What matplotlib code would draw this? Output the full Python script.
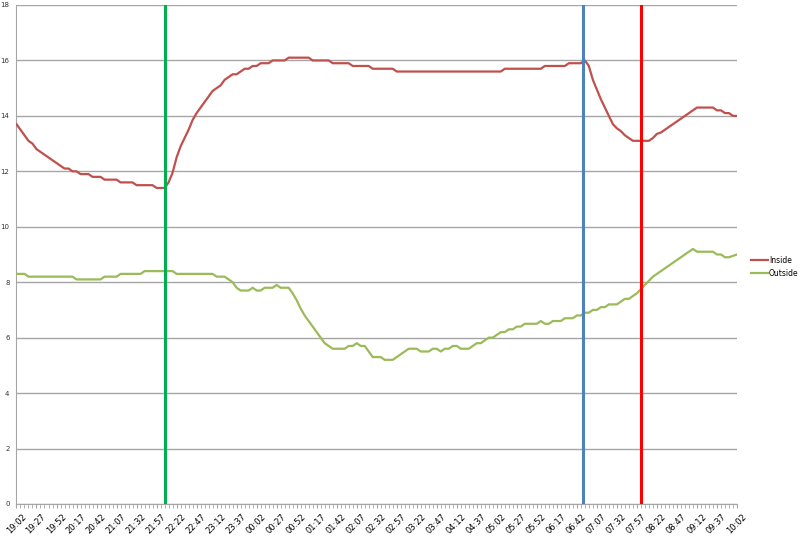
import matplotlib
matplotlib.use("Agg")
import matplotlib.pyplot as plt
from matplotlib.transforms import ScaledTranslation

# 5-minute samples from 19:02 to 10:02 (181 points)
start_minutes = 19 * 60 + 2
step = 5

inside = [
    13.7, 13.5, 13.3, 13.1, 13.0, 12.8, 12.7, 12.6, 12.5, 12.4,
    12.3, 12.2, 12.1, 12.1, 12.0, 12.0, 11.9, 11.9, 11.9, 11.8,
    11.8, 11.8, 11.7, 11.7, 11.7, 11.7, 11.6, 11.6, 11.6, 11.6,
    11.5, 11.5, 11.5, 11.5, 11.5, 11.4, 11.4, 11.4, 11.6, 11.95,
    12.5, 12.9, 13.2, 13.5, 13.85, 14.1, 14.3, 14.5, 14.7, 14.9,
    15.0, 15.1, 15.3, 15.4, 15.5, 15.5, 15.6, 15.7, 15.7, 15.8,
    15.8, 15.9, 15.9, 15.9, 16.0, 16.0, 16.0, 16.0, 16.1, 16.1,
    16.1, 16.1, 16.1, 16.1, 16.0, 16.0, 16.0, 16.0, 16.0, 15.9,
    15.9, 15.9, 15.9, 15.9, 15.8, 15.8, 15.8, 15.8, 15.8, 15.7,
    15.7, 15.7, 15.7, 15.7, 15.7, 15.6, 15.6, 15.6, 15.6, 15.6,
    15.6, 15.6, 15.6, 15.6, 15.6, 15.6, 15.6, 15.6, 15.6, 15.6,
    15.6, 15.6, 15.6, 15.6, 15.6, 15.6, 15.6, 15.6, 15.6, 15.6,
    15.6, 15.6, 15.7, 15.7, 15.7, 15.7, 15.7, 15.7, 15.7, 15.7,
    15.7, 15.7, 15.8, 15.8, 15.8, 15.8, 15.8, 15.8, 15.9, 15.9,
    15.9, 15.9, 16.0, 15.8, 15.3, 14.95, 14.6, 14.3, 14.0, 13.7,
    13.55, 13.45, 13.3, 13.2, 13.1, 13.1, 13.1, 13.1, 13.1, 13.2,
    13.35, 13.4, 13.5, 13.6, 13.7, 13.8, 13.9, 14.0, 14.1, 14.2,
    14.3, 14.3, 14.3, 14.3, 14.3, 14.2, 14.2, 14.1, 14.1, 14.0,
    14.0,
]

outside = [
    8.3, 8.3, 8.3, 8.2, 8.2, 8.2, 8.2, 8.2, 8.2, 8.2,
    8.2, 8.2, 8.2, 8.2, 8.2, 8.1, 8.1, 8.1, 8.1, 8.1,
    8.1, 8.1, 8.2, 8.2, 8.2, 8.2, 8.3, 8.3, 8.3, 8.3,
    8.3, 8.3, 8.4, 8.4, 8.4, 8.4, 8.4, 8.4, 8.4, 8.4,
    8.3, 8.3, 8.3, 8.3, 8.3, 8.3, 8.3, 8.3, 8.3, 8.3,
    8.2, 8.2, 8.2, 8.1, 8.0, 7.8, 7.7, 7.7, 7.7, 7.8,
    7.7, 7.7, 7.8, 7.8, 7.8, 7.9, 7.8, 7.8, 7.8, 7.6,
    7.35, 7.05, 6.8, 6.6, 6.4, 6.2, 6.0, 5.8, 5.7, 5.6,
    5.6, 5.6, 5.6, 5.7, 5.7, 5.8, 5.7, 5.7, 5.5, 5.3,
    5.3, 5.3, 5.2, 5.2, 5.2, 5.3, 5.4, 5.5, 5.6, 5.6,
    5.6, 5.5, 5.5, 5.5, 5.6, 5.6, 5.5, 5.6, 5.6, 5.7,
    5.7, 5.6, 5.6, 5.6, 5.7, 5.8, 5.8, 5.9, 6.0, 6.0,
    6.1, 6.2, 6.2, 6.3, 6.3, 6.4, 6.4, 6.5, 6.5, 6.5,
    6.5, 6.6, 6.5, 6.5, 6.6, 6.6, 6.6, 6.7, 6.7, 6.7,
    6.8, 6.8, 6.9, 6.9, 7.0, 7.0, 7.1, 7.1, 7.2, 7.2,
    7.2, 7.3, 7.4, 7.4, 7.5, 7.6, 7.75, 7.9, 8.05, 8.2,
    8.3, 8.4, 8.5, 8.6, 8.7, 8.8, 8.9, 9.0, 9.1, 9.2,
    9.1, 9.1, 9.1, 9.1, 9.1, 9.0, 9.0, 8.9, 8.9, 8.95,
    9.0,
]

# event markers (minutes after 19:02)
event_minutes = [185, 708, 780]
event_colors = ["#00b050", "#4f81bd", "#ff0000"]

label_every = 25  # minutes between tick labels

n = len(inside)
x = [i * step for i in range(n)]


def fmt(m):
    t = (start_minutes + m) % (24 * 60)
    return f"{t // 60:02d}:{t % 60:02d}"


fig = plt.figure(figsize=(8.0, 5.37), dpi=100)
ax = fig.add_axes([0.0206, 0.0615, 0.9006, 0.9292])

ax.plot(x, inside, color="#c0504d", lw=1.6, label="Inside", zorder=3)
ax.plot(x, outside, color="#9bbb59", lw=1.6, label="Outside", zorder=3)

for m, c in zip(event_minutes, event_colors):
    ax.axvline(m, color=c, lw=2.2, zorder=4)

ax.set_xlim(0, x[-1])
ax.set_ylim(0, 18)
ax.set_yticks(range(0, 19, 2))
ax.tick_params(axis="y", labelsize=5, length=0, pad=5, labelcolor="#333333")
ax.yaxis.grid(True, color="#a6a6a6", lw=1.0)
ax.set_axisbelow(True)

major = list(range(0, x[-1] + 1, label_every))
ax.set_xticks(major)
ax.set_xticklabels([fmt(m) for m in major], rotation=45, ha="right",
                   rotation_mode="anchor", fontsize=6)
ax.set_xticks(x, minor=True)
ax.tick_params(axis="x", which="both", length=3, color="#a6a6a6", pad=3)
offset = ScaledTranslation(5 / 100, 0, fig.dpi_scale_trans)
for lab in ax.get_xticklabels():
    lab.set_transform(lab.get_transform() + offset)

for s in ["top", "right"]:
    ax.spines[s].set_visible(False)
ax.spines["left"].set_color("#a6a6a6")
ax.spines["bottom"].set_color("#a6a6a6")

ax.legend(loc="center left", bbox_to_anchor=(1.02, 0.475), frameon=False,
          fontsize=5.5, handlelength=2.2, handletextpad=0.1, labelspacing=0.55,
          borderpad=0, borderaxespad=0)

fig.savefig("out.png", dpi=100, facecolor="white")
